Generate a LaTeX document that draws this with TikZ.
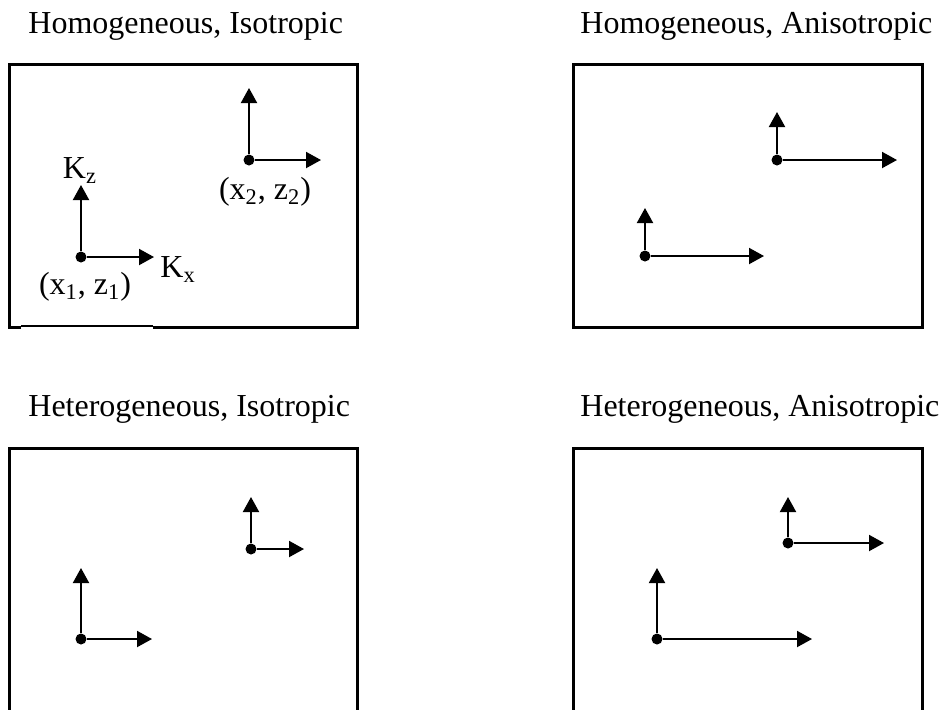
\documentclass[tikz,border=0pt]{standalone}
\usepackage{fontspec}
\setmainfont{Liberation Serif}
\usetikzlibrary{arrows.meta}

\begin{document}
\begin{tikzpicture}[x=0.5pt, y=-0.5pt,
                    every node/.style={font=\fontsize{16}{19}\selectfont, inner sep=0pt},
                    kvec/.style={line width=1pt, -{Triangle[length=7.5pt, width=8pt]}},
                    kdot/.style={circle, fill, inner sep=0pt, minimum size=5.5pt},
                    frame/.style={line width=1.5pt}]

  \useasboundingbox (0,0) rectangle (942,709);

  %% one point with its K_z and K_x arrows: name, point, tip of K_z (y), tip of K_x (x)
  \newcommand{\kpair}[5]{%
    \node[kdot] (#1) at (#2,#3) {};
    \coordinate (#1z) at (#2,#4);
    \coordinate (#1x) at (#5,#3);
    \draw[kvec] (#1) -- (#1z);
    \draw[kvec] (#1) -- (#1x);
  }

  %% ---- titles ----
  \node[anchor=base west] (t1) at (28,33)  {Homogeneous, Isotropic};
  \node[anchor=base west] (t2) at (580,33) {Homogeneous, Anisotropic};
  \node[anchor=base west] (t3) at (28,416) {Heterogeneous, Isotropic};
  \node[anchor=base west] (t4) at (580,416) {Heterogeneous, Anisotropic};

  %% ---- frames (the lower two run off the page) ----
  \draw[frame] (21,327) -- (9,327) -- (9,64) -- (357,64) -- (357,327) -- (153,327);
  \draw[line width=0.6pt] (21,326) -- (153,326);
  \draw[frame] (573,64) rectangle (922,327);
  \draw[frame] (9,712) -- (9,448) -- (357,448) -- (357,712);
  \draw[frame] (573,712) -- (573,448) -- (922,448) -- (922,712);

  %% ---- homogeneous, isotropic ----
  \kpair{a}{81}{257}{185}{154}
  \kpair{b}{249}{160}{88}{321}
  \node[anchor=base] (kz) at (80,178) {K\textsubscript{z}};
  \node[anchor=base west] (kx) at (160,277) {K\textsubscript{x}};
  \node[anchor=base] (pa) at (85,294) {(x\textsubscript{1}, z\textsubscript{1})};
  \node[anchor=base] (pb) at (265,199) {(x\textsubscript{2}, z\textsubscript{2})};

  %% ---- homogeneous, anisotropic ----
  \kpair{c}{645}{256}{208}{764}
  \kpair{d}{777}{160}{112}{897}

  %% ---- heterogeneous, isotropic ----
  \kpair{e}{81}{639}{568}{152}
  \kpair{f}{251}{549}{497}{304}

  %% ---- heterogeneous, anisotropic ----
  \kpair{g}{657}{639}{568}{812}
  \kpair{h}{788}{543}{497}{884}

\end{tikzpicture}
\end{document}
